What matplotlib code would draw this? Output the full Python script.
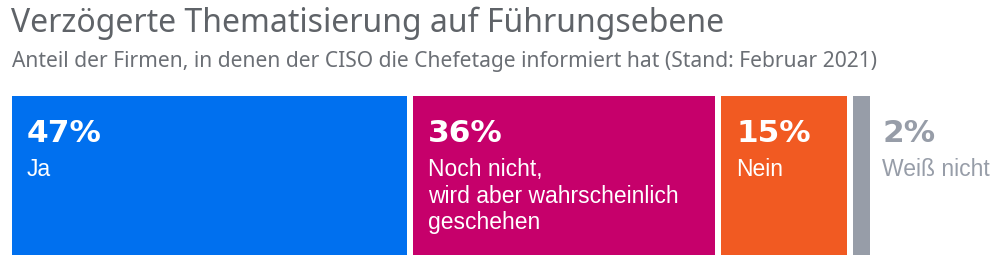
import matplotlib.pyplot as plt
from matplotlib.patches import Rectangle

# data
labels = ["Ja", "Noch nicht,\nwird aber wahrscheinlich\ngeschehen", "Nein", "Weiß nicht"]
values = [47, 36, 15, 2]
colors = ["#0070EF", "#C6006B", "#F15A22", "#979DA8"]

title = "Verzögerte Thematisierung auf Führungsebene"
subtitle = "Anteil der Firmen, in denen der CISO die Chefetage informiert hat (Stand: Februar 2021)"

W, H = 1000, 259
fig = plt.figure(figsize=(W / 100, H / 100), dpi=100)

# title + subtitle
fig.text(11 / W, 1 - 23 / H, title, fontsize=23, color="#5f6368",
         family=["Noto Sans", "DejaVu Sans"], va="center", ha="left")
fig.text(12 / W, 1 - 61 / H, subtitle, fontsize=15.1, color="#6b6f75",
         family=["Noto Sans", "DejaVu Sans"], va="center", ha="left")

# bar area
ax = fig.add_axes([12 / W, 4 / H, 858 / W, 159 / H])
ax.set_axis_off()
gap = 0.7
ax.set_xlim(0, sum(values) + gap * (len(values) - 1))
ax.set_ylim(0, 1)

left = 0
for i, (lab, v, c) in enumerate(zip(labels, values, colors)):
    ax.add_patch(Rectangle((left, 0), v, 1, color=c, lw=0))
    if v >= 5:
        x0, off, tc = left, 15, "white"
    else:
        x0, off, tc = left + v, 12, "#979DA8"
    ax.annotate(f"{v}%", xy=(x0, 1), xycoords=("data", "axes fraction"),
                xytext=(off, -38), textcoords="offset pixels",
                fontsize=22.5, fontweight="bold", color=tc, va="center", ha="left",
                family=["DejaVu Sans"])
    ax.annotate(lab, xy=(x0, 1), xycoords=("data", "axes fraction"),
                xytext=(off, -62), textcoords="offset pixels",
                fontsize=16.5, color=tc, va="top", ha="left", linespacing=1.2,
                family=["Liberation Sans", "DejaVu Sans"])
    left += v + gap

fig.savefig("out.png", dpi=100)
